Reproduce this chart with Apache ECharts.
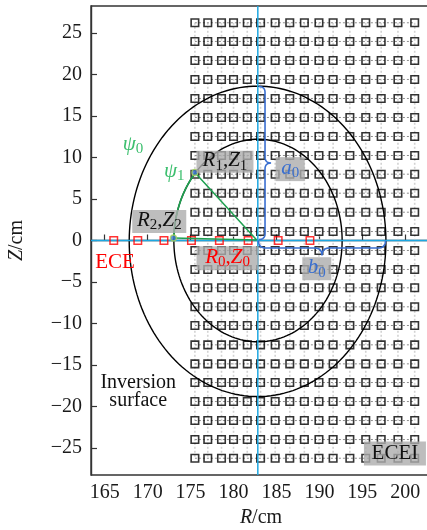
<!DOCTYPE html>
<html><head><meta charset="utf-8">
<script src="https://cdn.jsdelivr.net/npm/echarts@6/dist/echarts.min.js"></script>
<style>html,body{margin:0;padding:0;background:#fff}#c{width:427px;height:530px}</style>
</head><body><div id="c"></div>
<script>
// ---- data ----
const eceiR = [175.5,177.0,178.6,180.0,181.6,183.15,184.85,186.55,188.25,189.95,191.6,193.55,195.4,197.2,199.15,201.1];
const eceiZ = [26.23,23.98,21.69,19.40,17.11,14.82,12.53,10.24,7.99,5.70,3.41,1.08,-1.20,-3.49,-5.70,-7.99,-10.24,-12.57,-14.86,-17.11,-19.40,-21.69,-23.98,-26.23];
const eceR = [166.05,168.85,171.9,175.1,178.35,181.7,185.2,188.9];
const eceZ = [0,0,0,0,0,0,0,0];
const xTicks = [165,170,175,180,185,190,195,200];
const yTicks = [-25,-20,-15,-10,-5,0,5,10,15,20,25];
const rRange = [163.4, 203];
const zRange = [-28.25, 28.25];
const magR = 182.83;          // vertical line through magnetic axis
const midZ = 0;               // midplane
// flux surfaces: [R centre, Z centre, half-width, half-height]
const surfaces = [[182.8,-0.1,14.95,18.7],[182.85,0,9.8,12.2]];
const P0 = [182.7,0.05], P1 = [175.5,8.2], P2 = [173.0,0.3];
const braceA = [[182.97,18.55],[182.97,0.12]];
const braceB = [[182.9,0.0],[197.7,0.0]];

const eceiPts = [];
eceiZ.forEach(z => eceiR.forEach(r => eceiPts.push([r,z])));
const ecePts = eceR.map((r,i)=>[r,eceZ[i]]);

const SERIF = 'Liberation Serif';
const richBase = {
  i:{fontFamily:SERIF,fontStyle:'italic',fontSize:21,verticalAlign:'top'},
  n:{fontFamily:SERIF,fontSize:21,verticalAlign:'top'},
  s:{fontFamily:SERIF,fontSize:15,verticalAlign:'top',padding:[8,0,0,0]},
  m:{fontFamily:SERIF,fontSize:20,lineHeight:17.5}
};
const notes = [
 {at:[179.0,9.5], text:'{i|R}{s|1}{n|,}{i|Z}{s|1}', fill:'#111', box:[57,22]},
 {at:[171.35,2.3], text:'{i|R}{s|2}{n|,}{i|Z}{s|2}', fill:'#111', box:[54,23]},
 {at:[179.3,-2.15], text:'{i|R}{s|0}{n|,}{i|Z}{s|0}', fill:'#ff0000', box:[62,24]},
 {at:[186.6,8.6], text:'{i|a}{s|0}', fill:'#3a6fcf', box:[29,24]},
 {at:[189.7,-3.4], text:'{i|b}{s|0}', fill:'#3a6fcf', box:[29,23]},
 {at:[198.8,-25.65], text:'{n|ECEI}', fill:'#111', box:[62,24]},
 {at:[166.2,-2.7], text:'{n|ECE}', fill:'#ff0000'},
 {at:[168.3,11.45], text:'{i|ψ}{s|0}', fill:'#3cbf6e'},
 {at:[173.1,8.25], text:'{i|ψ}{s|1}', fill:'#3cbf6e'},
 {at:[168.9,-18.2], text:'{m|Inversion}\n{m|surface}', fill:'#111'}
];

function quad(a,c,b,n,out){for(let k=1;k<=n;k++){const t=k/n,u=1-t;out.push([u*u*a[0]+2*u*t*c[0]+t*t*b[0],u*u*a[1]+2*u*t*c[1]+t*t*b[1]]);}}
function bracePts(p0,p1,nv,w){
  const dx=p1[0]-p0[0],dy=p1[1]-p0[1],L=Math.hypot(dx,dy),t=[dx/L,dy/L],h=w/2;
  const m=[(p0[0]+p1[0])/2,(p0[1]+p1[1])/2];
  const P=(b,a,c)=>[b[0]+t[0]*a+nv[0]*c,b[1]+t[1]*a+nv[1]*c];
  const out=[p0.slice()];
  quad(p0,P(p0,0,h),P(p0,h,h),8,out);
  out.push(P(m,-h,h));
  quad(P(m,-h,h),P(m,0,h),P(m,0,w),8,out);
  quad(P(m,0,w),P(m,0,h),P(m,h,h),8,out);
  out.push(P(p1,-h,h));
  quad(P(p1,-h,h),P(p1,0,h),p1,8,out);
  return out;
}

const chart = echarts.init(document.getElementById('c'),null,{renderer:'canvas'});
const axisLbl = {fontFamily:SERIF,fontSize:20,color:'#1a1a1a'};
const nameRich = {i:{fontFamily:SERIF,fontStyle:'italic',fontSize:20,color:'#1a1a1a'},u:{fontFamily:SERIF,fontSize:20,color:'#1a1a1a'}};
chart.setOption({
  animation:false,
  textStyle:{fontFamily:SERIF},
  grid:{left:91,top:6,right:-4,bottom:55,outerBoundsMode:'none',containLabel:false,show:true,borderColor:'#333',borderWidth:1.4,backgroundColor:'transparent'},
  xAxis:{type:'value',min:rRange[0],max:rRange[1],
    axisLine:{show:true,lineStyle:{color:'#333',width:1.4}},
    axisTick:{show:true,inside:true,length:6,customValues:xTicks,lineStyle:{color:'#333',width:1.2}},
    axisLabel:Object.assign({customValues:xTicks,margin:8},axisLbl),
    splitLine:{show:false},
    name:'{i|R}{u|/cm}',nameLocation:'middle',nameGap:33,
    nameTextStyle:Object.assign({rich:nameRich},axisLbl)},
  yAxis:{type:'value',min:zRange[0],max:zRange[1],
    axisLine:{show:true,lineStyle:{color:'#333',width:1.4}},
    axisTick:{show:true,inside:true,length:6,customValues:yTicks,lineStyle:{color:'#333',width:1.2}},
    axisLabel:Object.assign({customValues:yTicks,margin:9,formatter:v=>String(v).replace('-','−')},axisLbl),
    splitLine:{show:false},
    name:'{i|Z}{u|/cm}',nameLocation:'middle',nameGap:64,nameRotate:90,
    nameTextStyle:Object.assign({rich:nameRich},axisLbl)},
  series:[
    {type:'custom',name:'ecei-v',silent:true,z:1,
     data:eceiR.map(r=>[r,eceiZ[0],r,eceiZ[eceiZ.length-1]]),
     renderItem:(p,api)=>{const a=api.coord([api.value(0),api.value(1)]),b=api.coord([api.value(2),api.value(3)]);
       return {type:'line',shape:{x1:a[0],y1:a[1],x2:b[0],y2:b[1]},style:{stroke:'#d2d2d2',lineWidth:1.6,lineDash:[2,2]}};}},
    {type:'custom',name:'ecei-h',silent:true,z:1,
     data:eceiZ.map(z=>[eceiR[0],z,eceiR[eceiR.length-1],z]),
     renderItem:(p,api)=>{const a=api.coord([api.value(0),api.value(1)]),b=api.coord([api.value(2),api.value(3)]);
       return {type:'line',shape:{x1:a[0],y1:a[1],x2:b[0],y2:b[1]},style:{stroke:'#8c8c8c',lineWidth:1,lineDash:[2,2]}};}},
    {type:'custom',name:'surfaces',silent:true,z:2,data:surfaces,
     renderItem:(p,api)=>{const c=api.coord([api.value(0),api.value(1)]);
       const rx=api.size([api.value(2),0])[0],ry=api.size([0,api.value(3)])[1];const pts=[];
       for(let k=0;k<=180;k++){const t=k/180*2*Math.PI;pts.push([c[0]+rx*Math.cos(t),c[1]-ry*Math.sin(t)]);}
       return {type:'polyline',shape:{points:pts},style:{stroke:'#000',lineWidth:1.4,fill:null}};}},
    {type:'scatter',name:'ECEI',z:3,symbol:'rect',symbolSize:7.5,data:eceiPts,silent:true,
     itemStyle:{color:'rgba(255,255,255,0)',borderColor:'#000',borderWidth:1.6}},
    {type:'line',name:'vline',z:4,symbol:'none',silent:true,data:[[magR,zRange[0]],[magR,zRange[1]]],lineStyle:{color:'#1ea7e1',width:1.5}},
    {type:'line',name:'hline',z:4,symbol:'none',silent:true,data:[[rRange[0],midZ],[rRange[1],midZ]],lineStyle:{color:'#1ea7e1',width:1.5}},
    {type:'scatter',name:'ECE',z:5,symbol:'rect',symbolSize:7.5,data:ecePts,silent:true,
     itemStyle:{color:'rgba(255,255,255,0)',borderColor:'#ff0000',borderWidth:1.5}},
    {type:'custom',name:'arc',silent:true,z:6,data:[[surfaces[1][0],surfaces[1][1],surfaces[1][2],surfaces[1][3]]],
     renderItem:(p,api)=>{const cR=api.value(0),cZ=api.value(1),a=api.value(2),b=api.value(3);
       const c=api.coord([cR,cZ]);const rx=api.size([a,0])[0],ry=api.size([0,b])[1];
       const t1=Math.atan2((P1[1]-cZ)/b,(P1[0]-cR)/a),t2=Math.atan2((P2[1]-cZ)/b,(P2[0]-cR)/a);const pts=[];
       for(let k=0;k<=40;k++){const t=t1+(t2-t1)*k/40;pts.push([c[0]+rx*Math.cos(t),c[1]-ry*Math.sin(t)]);}
       return {type:'polyline',shape:{points:pts},style:{stroke:'#1fa050',lineWidth:1.7,fill:null}};}},
    {type:'line',name:'rays',z:6,symbol:'none',silent:true,data:[P1,P0,P2],lineStyle:{color:'#1fa050',width:1.5}},
    {type:'scatter',name:'pts',z:7,symbol:'circle',symbolSize:6,silent:true,data:[P1,P2],
     itemStyle:{color:'#3a6fd0',borderColor:'#a8d45a',borderWidth:1.3}},
    {type:'custom',name:'braces',silent:true,z:7,data:[[...braceA[0],...braceA[1],1,0,12],[...braceB[0],...braceB[1],0,1,15]],
     renderItem:(p,api)=>{const a=api.coord([api.value(0),api.value(1)]),b=api.coord([api.value(2),api.value(3)]);
       return {type:'polyline',shape:{points:bracePts(a,b,[api.value(4),api.value(5)],api.value(6))},style:{stroke:'#3a6fd0',lineWidth:1.6,fill:null}};}},
    {type:'custom',name:'notes',silent:true,z:8,data:notes.map((n,i)=>[n.at[0],n.at[1],i]),
     renderItem:(p,api)=>{const n=notes[api.value(2)];const c=api.coord([api.value(0),api.value(1)]);const ch=[];
       if(n.box) ch.push({type:'rect',shape:{x:c[0]-n.box[0]/2,y:c[1]-n.box[1]/2,width:n.box[0],height:n.box[1]},style:{fill:'rgba(172,172,172,0.8)'}});
       ch.push({type:'text',x:c[0],y:c[1],style:{text:n.text,rich:richBase,fill:n.fill,align:'center',verticalAlign:'middle',fontFamily:SERIF,fontSize:21}});
       return {type:'group',children:ch};}}
  ]
});
</script></body></html>
